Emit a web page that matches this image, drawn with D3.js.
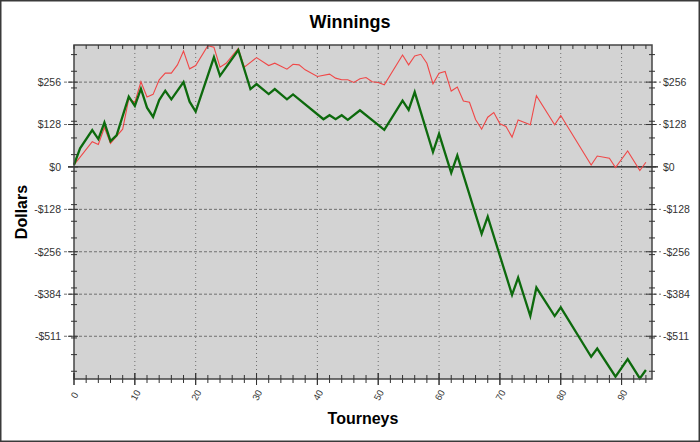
<html>
<head>
<meta name="viewport" content="width=device-width, initial-scale=1" />
<script src="https://d3js.org/d3.v7.min.js"></script>
<title>Winnings</title>
<style>
    body { margin: 0; background: #fff; }
    svg { display: block; font-family: "Liberation Sans", Arial, sans-serif; }
</style>
</head>
<body>
<div id="chart"></div>
<script>
// vertices (tourney number, cumulative dollars)
var greenTourney = [0, 1, 3, 4, 5, 6, 7, 9, 10, 11, 12, 13, 14, 15, 16, 18, 19, 20, 23, 24, 27, 29, 30, 32, 33, 35, 36,
    41, 42, 43, 44, 45, 47, 51, 54, 55, 56, 59, 60, 62, 63, 67, 68, 72, 73, 75, 76, 79, 80, 85, 86, 89, 91, 93, 94];
var greenDollars = [6, 56, 111, 84, 134, 78, 95, 212, 184, 236, 179, 151, 202, 230, 204, 256, 197, 167, 331, 275, 353, 235, 250, 220, 235, 204, 219,
    144, 156, 144, 156, 142, 171, 112, 200, 172, 226, 45, 100, -18, 35, -202, -150, -386, -334, -450, -364, -450, -424, -573, -548, -633, -580, -638, -613];

var redTourney = [0, 3, 4, 5, 6, 7, 8, 9, 10, 11, 12, 13, 14, 15, 16, 17, 18, 19, 20, 22, 23, 24, 25, 27, 28, 30, 32, 33, 35, 36, 37, 38, 40,
    42, 43, 44, 45, 46, 47, 48, 49, 50, 51, 54, 55, 56, 57, 58, 59, 60, 61, 62, 63, 64, 65, 66, 67, 68, 69, 70, 71, 72, 73, 75, 76, 79, 80,
    85, 86, 88, 89, 91, 93, 94];
var redDollars = [6, 76, 68, 119, 71, 93, 114, 205, 195, 257, 211, 219, 263, 283, 283, 308, 350, 296, 306, 366, 361, 301, 313, 358, 301, 330, 306, 313, 295, 310, 308, 293, 273,
    280, 268, 263, 263, 255, 266, 270, 257, 255, 248, 338, 308, 335, 340, 313, 251, 283, 288, 229, 241, 199, 195, 143, 114, 150, 164, 130, 122, 90, 142, 127, 215, 127, 155,
    6, 33, 26, -2, 48, -11, 14];

var xTicks = [0, 10, 20, 30, 40, 50, 60, 70, 80, 90];
var yTicks = [-511, -384, -256, -128, 0, 128, 256];
var yTickLabels = ["-$511", "-$384", "-$256", "-$128", "$0", "$128", "$256"];

var W = 700, H = 442;
var margin = { top: 45, right: 48, bottom: 63, left: 74 },
    width = W - margin.left - margin.right,
    height = H - margin.top - margin.bottom;

var svg = d3.select("#chart").append("svg")
    .attr("width", W).attr("height", H);

svg.append("rect")
    .attr("x", 0.75).attr("y", 0.75)
    .attr("width", W - 1.5).attr("height", H - 1.5)
    .attr("fill", "#fff").attr("stroke", "#3a3a3a").attr("stroke-width", 1.5);

svg.append("text")
    .attr("x", W / 2).attr("y", 28)
    .attr("text-anchor", "middle")
    .style("font-size", "18px").style("font-weight", "bold")
    .text("Winnings");

var g = svg.append("g")
    .attr("transform", "translate(" + margin.left + "," + margin.top + ")");

var x = d3.scaleLinear().domain([0, 95]).range([0, width]);
var y = d3.scaleLinear().domain([-640, 368]).range([height, 0]);

g.append("rect")
    .attr("width", width).attr("height", height)
    .attr("fill", "#d3d3d3");

// vertical dotted grid
g.selectAll(".vgrid")
    .data(xTicks.filter(d => d > 0))
    .enter().append("line")
    .attr("x1", d => x(d)).attr("x2", d => x(d))
    .attr("y1", 0).attr("y2", height)
    .attr("stroke", "#6e6e6e").attr("stroke-width", 1)
    .attr("stroke-dasharray", "1,3");

// horizontal dashed grid (runs a bit past the frame on both sides)
g.selectAll(".hgrid")
    .data(yTicks.filter(d => d != 0))
    .enter().append("line")
    .attr("x1", -10).attr("x2", width + 9)
    .attr("y1", d => y(d)).attr("y2", d => y(d))
    .attr("stroke", "#707070").attr("stroke-width", 1)
    .attr("stroke-dasharray", "3,2");

// zero line
g.append("line")
    .attr("x1", -6).attr("x2", width + 6)
    .attr("y1", y(0)).attr("y2", y(0))
    .attr("stroke", "#111").attr("stroke-width", 1.2);

var line = d3.line()
    .x(d => x(d[0]))
    .y(d => y(d[1]));

g.append("path")
    .datum(d3.zip(redTourney, redDollars))
    .attr("d", line)
    .attr("fill", "none")
    .attr("stroke", "#f04848")
    .attr("stroke-width", 1.1);

g.append("path")
    .datum(d3.zip(greenTourney, greenDollars))
    .attr("d", line)
    .attr("fill", "none")
    .attr("stroke", "#0d6a0d")
    .attr("stroke-width", 2.3)
    .attr("stroke-linejoin", "miter");

// frame
g.append("rect")
    .attr("width", width).attr("height", height)
    .attr("fill", "none")
    .attr("stroke", "#454545").attr("stroke-width", 1.5);

// x ticks: bottom crossing the axis, top pointing inwards
var xMinor = d3.range(0, 95, 2);
g.selectAll(".xb")
    .data(xMinor.concat(xTicks))
    .enter().append("line")
    .attr("x1", d => x(d)).attr("x2", d => x(d))
    .attr("y1", d => height - (d % 10 == 0 ? 6 : 4))
    .attr("y2", d => height + (d % 10 == 0 ? 6 : 4))
    .attr("stroke", "#333").attr("stroke-width", 1);

g.selectAll(".xt")
    .data(xMinor)
    .enter().append("line")
    .attr("x1", d => x(d)).attr("x2", d => x(d))
    .attr("y1", 0).attr("y2", 4)
    .attr("stroke", "#333").attr("stroke-width", 1);

// y ticks on both sides
var yMinor = d3.range(339, -641, -50.3);
[0, width].forEach(function (x0) {
    g.selectAll(null)
        .data(yMinor)
        .enter().append("line")
        .attr("x1", x0 - 3).attr("x2", x0 + 3)
        .attr("y1", d => y(d)).attr("y2", d => y(d))
        .attr("stroke", "#333").attr("stroke-width", 1);
    g.selectAll(null)
        .data(yTicks)
        .enter().append("line")
        .attr("x1", x0 - 6).attr("x2", x0 + 4)
        .attr("y1", d => y(d)).attr("y2", d => y(d))
        .attr("stroke", "#333").attr("stroke-width", 1);
});

// tick labels
var fmt = d => yTickLabels[yTicks.indexOf(d)];

g.append("g")
    .call(d3.axisLeft(y).tickValues(yTicks).tickFormat(fmt).tickSize(0).tickPadding(13))
    .call(a => a.select(".domain").remove())
    .selectAll("text")
    .style("font-family", "Liberation Sans, Arial, sans-serif")
    .style("font-size", "10.5px").attr("fill", "#333");

g.append("g")
    .attr("transform", "translate(" + width + ",0)")
    .call(d3.axisRight(y).tickValues(yTicks).tickFormat(fmt).tickSize(0).tickPadding(11))
    .call(a => a.select(".domain").remove())
    .selectAll("text")
    .style("font-family", "Liberation Sans, Arial, sans-serif")
    .style("font-size", "10.5px").attr("fill", "#333");

g.append("g")
    .attr("transform", "translate(0," + height + ")")
    .call(d3.axisBottom(x).tickValues(xTicks).tickSize(0).tickPadding(0))
    .call(a => a.select(".domain").remove())
    .selectAll("text")
    .attr("y", 0).attr("dy", 0)
    .attr("transform", "translate(0,16) rotate(-62)")
    .attr("dominant-baseline", "central")
    .style("text-anchor", "middle")
    .style("font-family", "Liberation Sans, Arial, sans-serif")
    .style("font-size", "9.5px").attr("fill", "#333");

// axis titles
svg.append("text")
    .attr("x", margin.left + width / 2).attr("y", 424)
    .attr("text-anchor", "middle")
    .style("font-size", "16px").style("font-weight", "bold")
    .text("Tourneys");

svg.append("text")
    .attr("transform", "translate(27," + (margin.top + height / 2) + ") rotate(-90)")
    .attr("text-anchor", "middle")
    .style("font-size", "16px").style("font-weight", "bold")
    .text("Dollars");
</script>
</body>
</html>
